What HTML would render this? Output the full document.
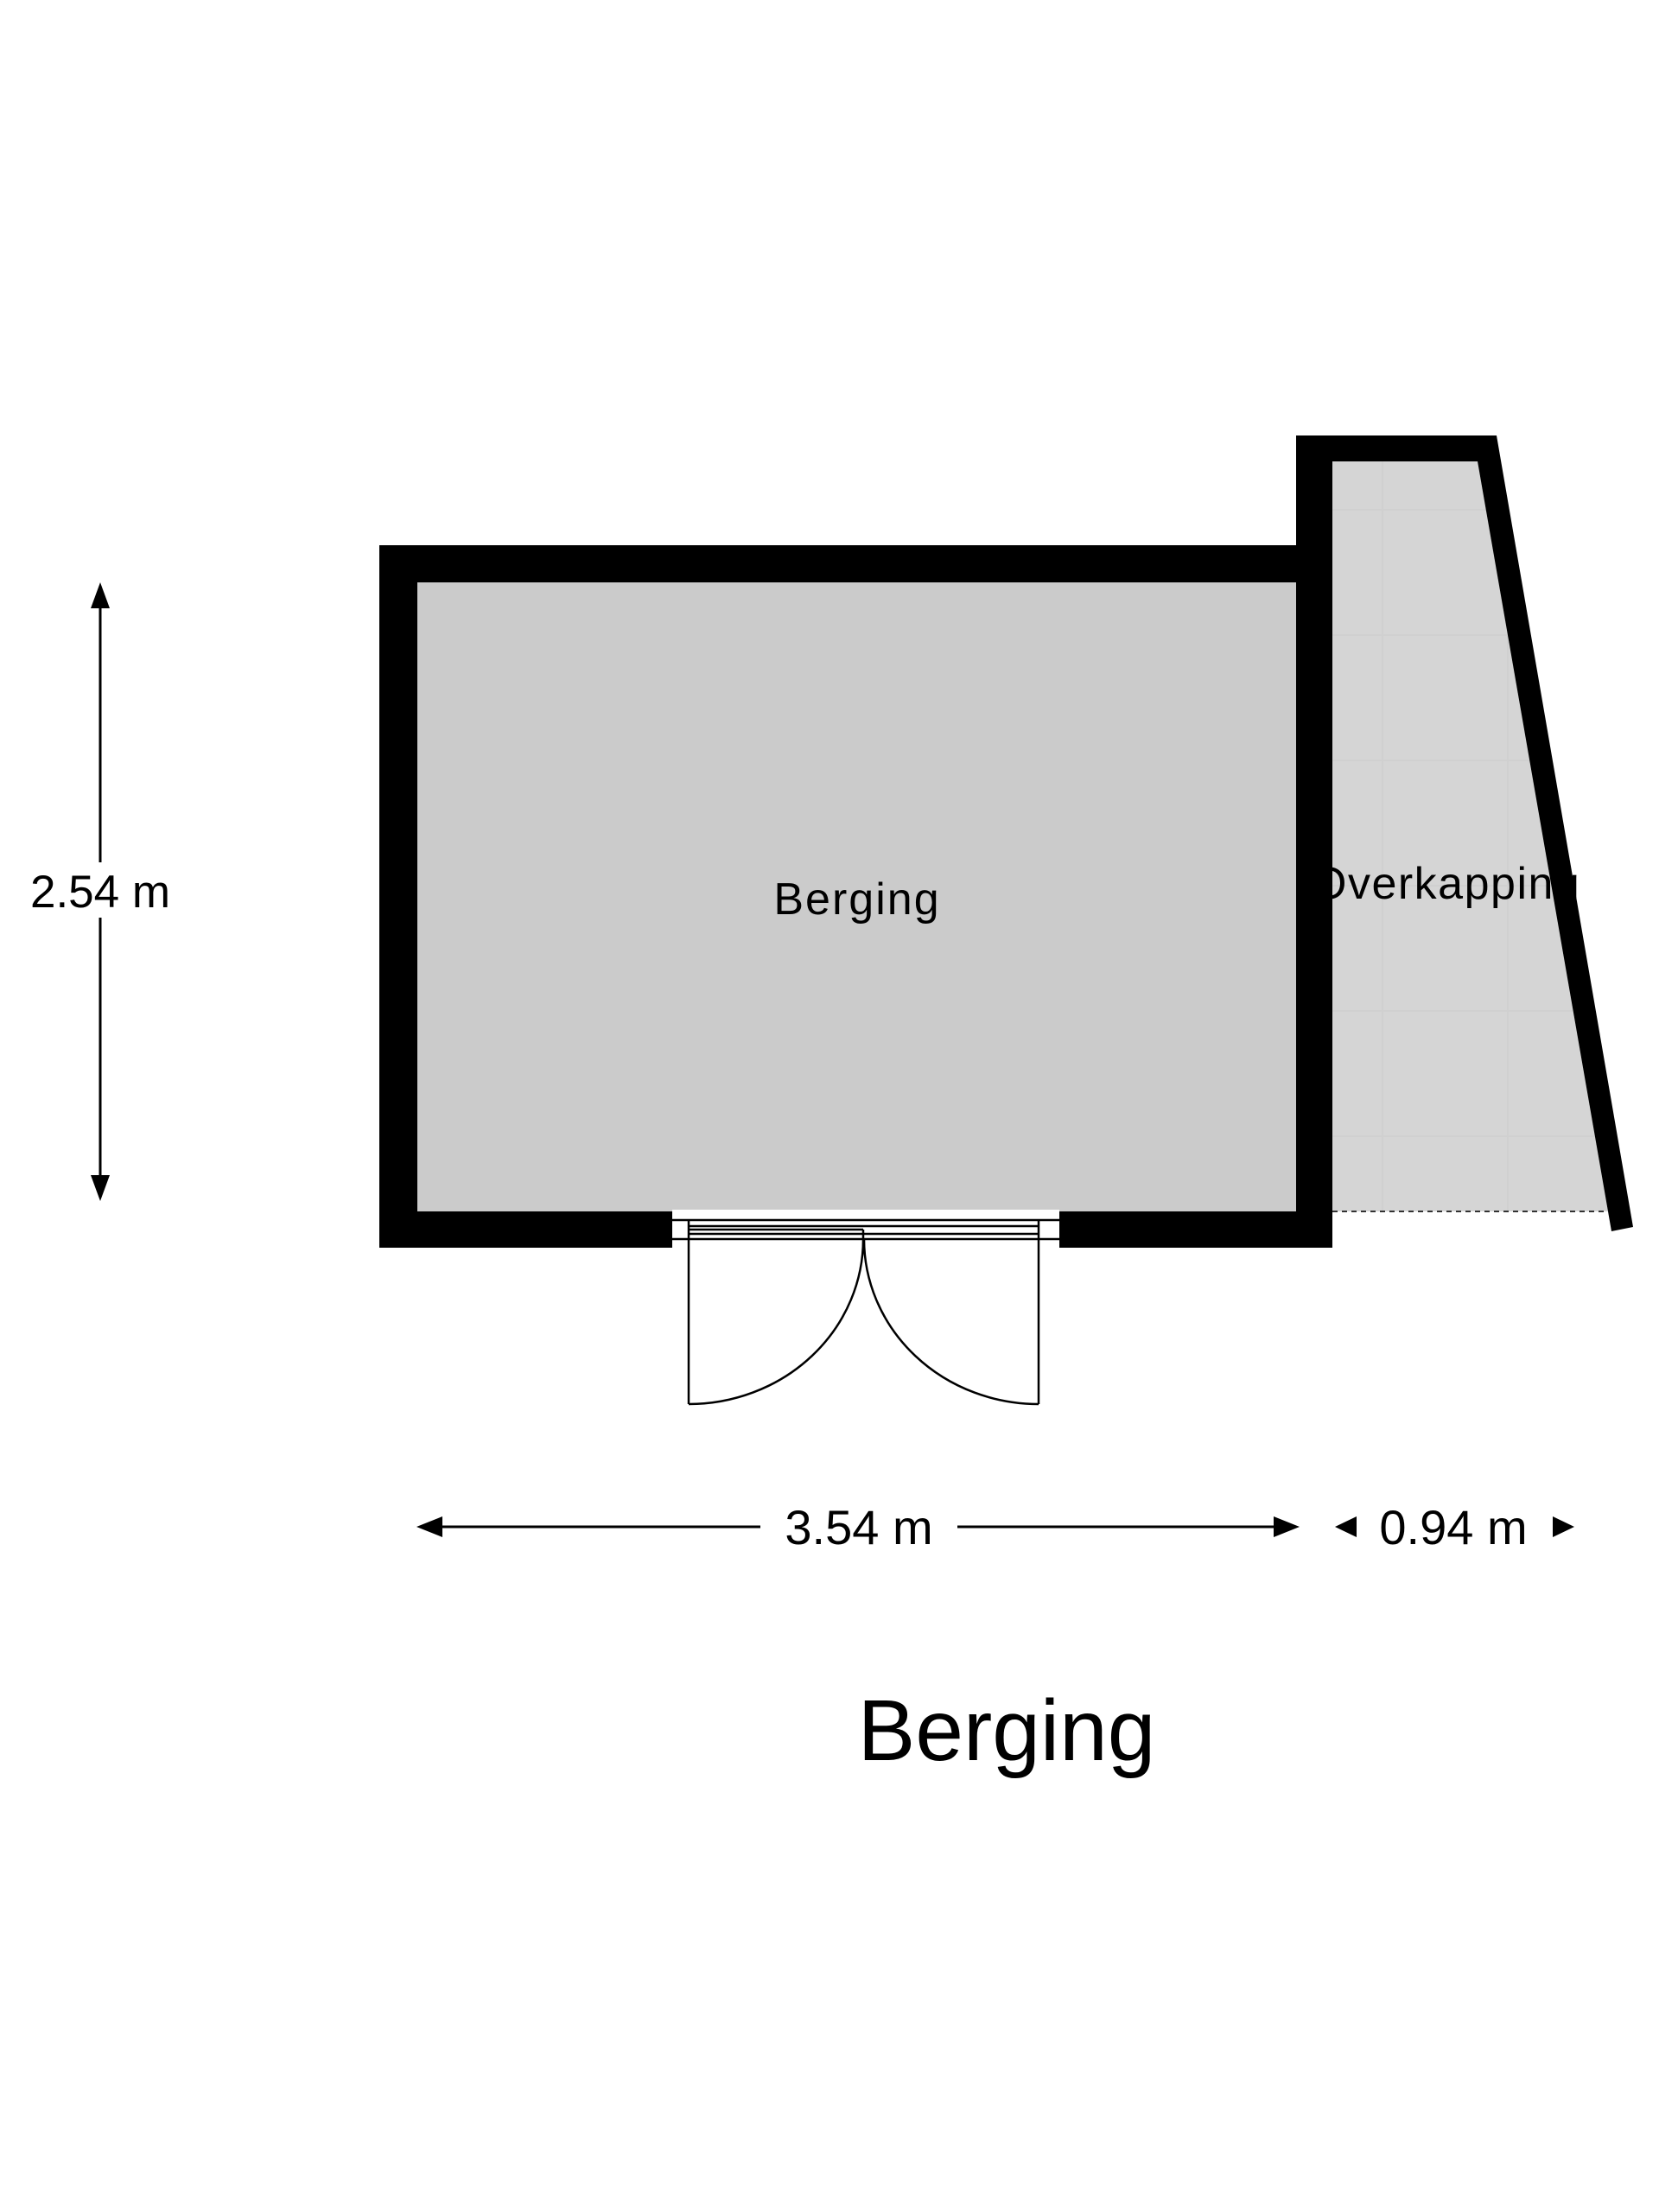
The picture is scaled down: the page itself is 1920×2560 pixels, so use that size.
<!DOCTYPE html>
<html><head><meta charset="utf-8"><style>
html,body{margin:0;padding:0;background:#fff;}
svg{display:block;}
text{font-family:"Liberation Sans",Arial,sans-serif;fill:#000;}
</style></head><body>
<svg width="1920" height="2560" viewBox="0 0 1920 2560" xmlns="http://www.w3.org/2000/svg">
<rect width="1920" height="2560" fill="#fff"/>
<!-- floors -->
<rect x="483" y="674" width="1017" height="728" fill="#cbcbcb"/>
<polygon points="1542,534 1710,534 1861,1402 1542,1402" fill="#d5d5d5"/>
<g stroke="#cfcfcf" stroke-width="1.5">
<line x1="1542" y1="590" x2="1720" y2="590"/>
<line x1="1542" y1="735" x2="1745" y2="735"/>
<line x1="1542" y1="880" x2="1770" y2="880"/>
<line x1="1542" y1="1025" x2="1795" y2="1025"/>
<line x1="1542" y1="1170" x2="1820" y2="1170"/>
<line x1="1542" y1="1315" x2="1845" y2="1315"/>
<line x1="1600" y1="534" x2="1600" y2="1402"/>
<line x1="1745" y1="735" x2="1745" y2="1402"/>
</g>
<!-- labels under walls -->
<text x="992" y="1058" font-size="52" text-anchor="middle" letter-spacing="2">Berging</text>
<text x="1518" y="1040" font-size="52" letter-spacing="1.5">Overkapping</text>
<!-- walls -->
<path d="M439,631 H1542 V1444 H439 Z M483,674 V1402 H1500 V674 Z" fill="#000" fill-rule="evenodd"/>
<rect x="1500" y="504" width="42" height="940" fill="#000"/>
<rect x="1500" y="504" width="232" height="30" fill="#000"/>
<polygon points="1710,504 1732,504 1890,1420 1865,1425 1710,534" fill="#000"/>
<!-- door opening -->
<rect x="778" y="1400" width="448" height="46" fill="#fff"/>
<g stroke="#000" stroke-width="2.5" fill="none">
<line x1="778" y1="1412" x2="1226" y2="1412"/>
<line x1="778" y1="1434" x2="1226" y2="1434"/>
<line x1="797" y1="1419" x2="1202" y2="1419"/>
<line x1="797" y1="1423" x2="999" y2="1423"/>
<line x1="797" y1="1428" x2="1202" y2="1428"/>
<line x1="797" y1="1412" x2="797" y2="1625"/>
<line x1="1202" y1="1412" x2="1202" y2="1625"/>
<line x1="999" y1="1423" x2="999" y2="1434"/>
<path d="M999,1434 A202,191 0 0 1 797,1625"/>
<path d="M1000,1434 A202,191 0 0 0 1202,1625"/>
</g>
<!-- dashed line -->
<line x1="1542" y1="1402" x2="1861" y2="1402" stroke="#333" stroke-width="2" stroke-dasharray="6,5"/>
<!-- vertical dimension -->
<g stroke="#000" stroke-width="3">
<line x1="116" y1="690" x2="116" y2="998"/>
<line x1="116" y1="1062" x2="116" y2="1372"/>
<line x1="486" y1="1767" x2="880" y2="1767"/>
<line x1="1108" y1="1767" x2="1500" y2="1767"/>
</g>
<polygon points="116,674 105,704 127,704" fill="#000"/>
<polygon points="116,1390 105,1360 127,1360" fill="#000"/>
<text x="116" y="1050" font-size="53" text-anchor="middle">2.54 m</text>
<!-- horizontal dims -->
<polygon points="482,1767 512,1755 512,1779" fill="#000"/>
<polygon points="1504,1767 1474,1755 1474,1779" fill="#000"/>
<text x="994" y="1787" font-size="56" text-anchor="middle">3.54 m</text>
<polygon points="1545,1767 1570,1755 1570,1779" fill="#000"/>
<polygon points="1822,1767 1797,1755 1797,1779" fill="#000"/>
<text x="1682" y="1787" font-size="56" text-anchor="middle">0.94 m</text>
<!-- title -->
<text x="1165" y="2037" font-size="100" text-anchor="middle">Berging</text>
</svg>
</body></html>
